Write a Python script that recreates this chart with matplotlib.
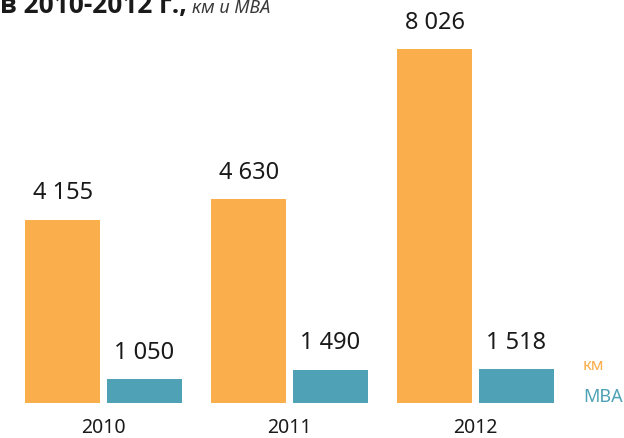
import matplotlib.pyplot as plt
import numpy as np

years = ['2010', '2011', '2012']
km = [4155, 4630, 8026]
mva = [1050, 1490, 1518]

ORANGE = '#FBAE4C'
TEAL = '#4FA2B5'
FONT = 'Noto Sans'


def fmt(v):
    return f'{v:,}'.replace(',', ' ')


def main():
    fig = plt.figure(figsize=(6.24, 4.39), dpi=100)
    ax = fig.add_axes([0, 35 / 439, 1, 404 / 439])
    ax2 = ax.twinx()

    x = np.arange(len(years))
    w = 0.403
    off = 0.22

    b1 = ax.bar(x - off, km, width=w, color=ORANGE, linewidth=0)
    b2 = ax2.bar(x + off, mva, width=w, color=TEAL, linewidth=0)

    ax.set_xlim(-103.5 / 186, (624 - 103.5) / 186)
    ax.set_ylim(0, 9160)
    ax2.set_ylim(0, 18000)

    ax.bar_label(b1, labels=[fmt(v) for v in km], padding=11,
                 fontsize=17, family=FONT, color='#1a1a1a')
    ax2.bar_label(b2, labels=[fmt(v) for v in mva], padding=11,
                  fontsize=17, family=FONT, color='#1a1a1a')

    ax.set_xticks(x, years, fontsize=14, family=FONT, color='#1a1a1a')
    ax.tick_params(axis='x', length=0, pad=10)
    ax.set_yticks([])
    ax2.set_yticks([])
    for a in (ax, ax2):
        for s in a.spines.values():
            s.set_visible(False)
        a.patch.set_visible(False)

    # heading, partly running off the top edge
    fig.text(0.0, 1 - 13 / 439, 'в 2010-2012 г.,', fontsize=19,
             fontweight='bold', family='Open Sans', color='#1a1a1a',
             va='baseline')
    fig.text(192 / 624, 1 - 13 / 439, 'км и МВА', fontsize=13,
             style='italic', family=FONT, color='#3a3a3a', va='baseline')

    # legend labels
    fig.text(583 / 624, 1 - 366 / 439, 'км', fontsize=12, family=FONT,
             color=ORANGE, va='center')
    fig.text(583 / 624, 1 - 397 / 439, 'МВА', fontsize=13, family=FONT,
             color=TEAL, va='center')

    fig.savefig('out.png', dpi=100)


if __name__ == '__main__':
    main()
